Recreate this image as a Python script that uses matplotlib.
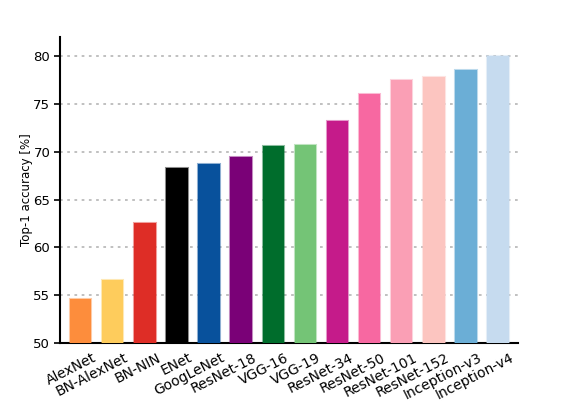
import matplotlib
matplotlib.use("Agg")
import matplotlib.pyplot as plt
from matplotlib.colors import to_rgba

models = ["AlexNet", "BN-AlexNet", "BN-NIN", "ENet", "GoogLeNet", "ResNet-18",
          "VGG-16", "VGG-19", "ResNet-34", "ResNet-50", "ResNet-101", "ResNet-152",
          "Inception-v3", "Inception-v4"]
accuracy = [54.6, 56.6, 62.6, 68.3, 68.7, 69.5, 70.6, 70.7, 73.2, 76.0, 77.5, 77.8, 78.5, 80.0]
colors = ["#fd8d3c", "#fecc5c", "#de2d26", "#000000", "#08519c", "#7a0177",
          "#006d2c", "#74c476", "#c51b8a", "#f768a1", "#fa9fb5", "#fcc5c0",
          "#6baed6", "#c6dbef"]
yticks = [50, 55, 60, 65, 70, 75, 80]

fig = plt.figure(figsize=(5.68, 4.09), dpi=100)
ax = fig.add_axes([60/568, 1 - 343/409, (518-60)/568, (343-37)/409])
x = list(range(len(models)))
edge = [to_rgba(c, 0.45) for c in colors]
ax.bar(x, [a - 50 for a in accuracy], bottom=50, width=0.67, color=colors,
       edgecolor=edge, linewidth=1.5, zorder=3)
ax.set_ylim(50, 82)
ax.set_xlim(-0.64, len(models) - 0.38)
ax.set_yticks(yticks)
ax.set_yticklabels([str(v) for v in yticks], fontsize=9.5)
# labels sit shifted to the right of each bar (tick marks are hidden)
ax.set_xticks([i + 0.56 for i in x])
ax.set_xticklabels(models, rotation=27, ha="right", fontsize=10)
ax.tick_params(axis="x", length=0, pad=5.5)
ax.tick_params(axis="y", length=4, width=1.2, pad=3)
ax.set_ylabel("Top-1 accuracy [%]", fontsize=8.5, labelpad=0)
ax.grid(axis="y", linestyle=(0, (1.5, 2.5)), color="#bbbbbb", linewidth=1.3, zorder=0)
for s in ["top", "right"]:
    ax.spines[s].set_visible(False)
ax.spines["left"].set_linewidth(1.5)
ax.spines["bottom"].set_linewidth(1.5)
fig.savefig("out.png", dpi=100)
